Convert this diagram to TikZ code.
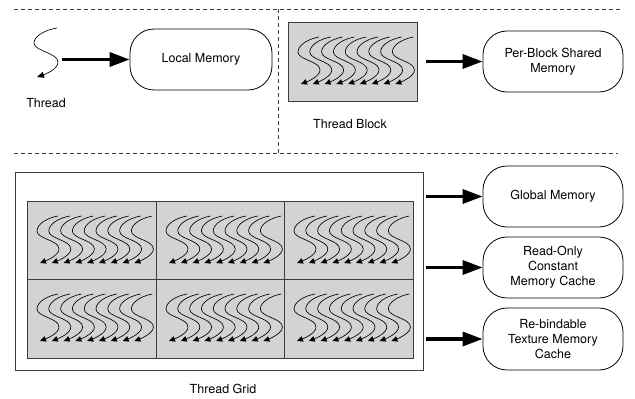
\documentclass[tikz,border=0pt]{standalone}
\usepackage{fontspec}
\setmainfont{TeX Gyre Heros}
\usetikzlibrary{arrows.meta}
\definecolor{cellgray}{RGB}{211,211,211}
\definecolor{edgegray}{RGB}{60,60,60}
\begin{document}
\begin{tikzpicture}[x=1pt,y=-1pt,
  mem/.style={draw, line width=0.8pt, rounded corners=24pt, align=center,
    font=\fontsize{12.5}{15}\selectfont, inner sep=0pt, minimum width=140pt, minimum height=61pt},
  lbl/.style={font=\fontsize{12.5}{15}\selectfont, inner sep=0pt},
  bigarrow/.style={line width=3.3pt, -{Triangle[length=20pt,width=14pt]}},
  sep/.style={draw=edgegray, line width=0.7pt, dash pattern=on 4pt off 3pt},
  cell/.style={draw=edgegray, line width=0.9pt, fill=cellgray},
  thr/.style={line width=0.65pt, -{Triangle[length=6pt,width=5.5pt]}},
  thrbig/.style={line width=0.65pt, -{Triangle[length=7pt,width=6pt]}}
]
\useasboundingbox (0,0) rectangle (635,399);

% separators
\draw[sep] (14,9) -- (622,9);
\draw[sep] (14,153) -- (618,153);
\draw[sep] (278,9) -- (278,153);

% single thread
\begin{scope}[shift={(37,77)}]
  \draw[thrbig] (20,-49) .. controls (8,-47) and (-3,-41) .. (-3,-34) .. controls (-3,-26) and (21,-24) .. (21,-15) .. controls (21,-8) and (9,-3) .. (0,0);
\end{scope}
\node[lbl] (threadlbl) at (46,103) {Thread};
\coordinate (thstart) at (62,59.5);
\node[mem, minimum width=142pt] (local) at (201,59.5) {Local Memory};
\draw[bigarrow] (thstart) -- (local.west);

% thread block
\node[cell, minimum width=129pt, minimum height=79pt, inner sep=0pt, anchor=north west] (block) at (288,22) {};
\node[lbl] (blocklbl) at (350,124) {Thread Block};
\node[mem] (shared) at (553,61.5) {Per-Block Shared\\Memory};
\draw[bigarrow] ([xshift=8pt]block.east |- shared.west) -- (shared.west);

% thread grid
\node[draw=edgegray, line width=0.8pt, minimum width=408pt, minimum height=198pt, inner sep=0pt, anchor=north west] (grid) at (15,172) {};
\foreach \cx/\cy/\nm in {27/201/a, 156/201/b, 284/201/c, 27/279/d, 156/279/e, 284/279/f} {
  \node[cell, minimum width=129pt, minimum height=79pt, inner sep=0pt, anchor=north west] (cell\nm) at (\cx,\cy) {};
}
\node[lbl] (gridlbl) at (223,389) {Thread Grid};

% threads inside block and cells
\foreach \bx/\by in {288/22, 27/201, 156/201, 284/201, 27/279, 156/279, 284/279} {
  \foreach \i in {0,...,8} {
    \begin{scope}[shift={(\bx+13+11.8*\i,\by+62)}]
      \draw[thr] (18,-47) .. controls (7,-45) and (-3,-39) .. (-3,-32) .. controls (-3,-24) and (19,-23) .. (19,-14) .. controls (19,-8) and (8,-3) .. (0,0);
    \end{scope}
  }
}

% memory boxes on the right
\node[mem] (global) at (553,196.5) {Global Memory};
\node[mem] (const) at (553,267.5) {Read-Only\\Constant\\Memory Cache};
\node[mem, minimum height=62pt] (texture) at (553,339) {Re-bindable\\Texture Memory\\Cache};
\draw[bigarrow] ([xshift=2pt]grid.east |- global.west) -- (global.west);
\draw[bigarrow] ([xshift=2pt]grid.east |- const.west) -- (const.west);
\draw[bigarrow] ([xshift=2pt]grid.east |- texture.west) -- (texture.west);
\end{tikzpicture}
\end{document}
